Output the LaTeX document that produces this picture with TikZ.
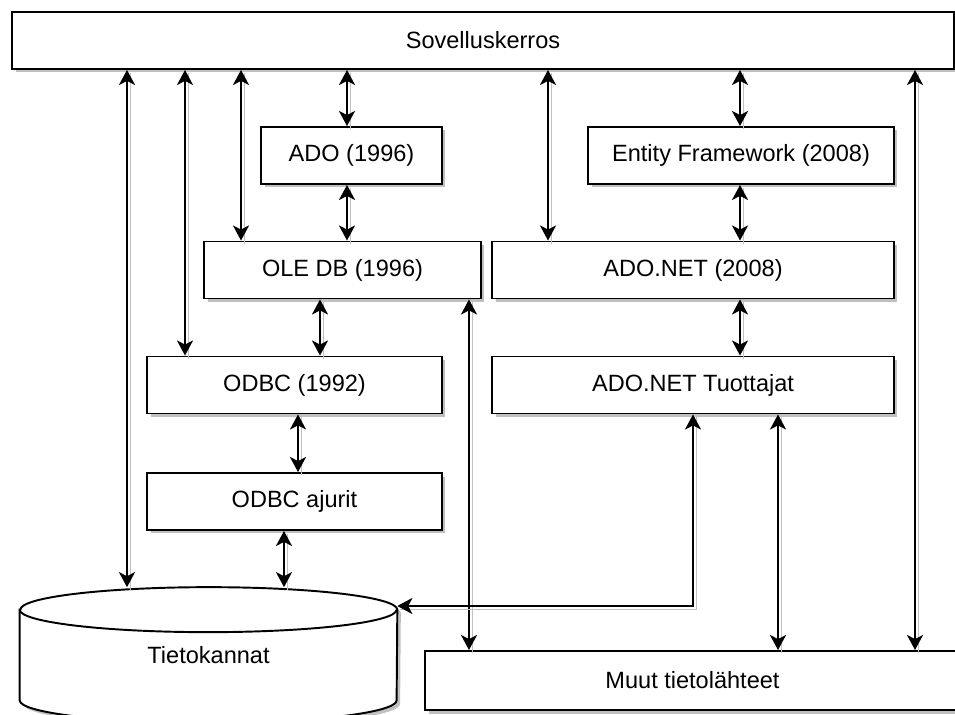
\documentclass[tikz,border=0pt]{standalone}
\usepackage{fontspec}
\setmainfont{Liberation Sans}
\usepackage{xcolor}
\usepackage{tikz}
\definecolor{shadowgray}{RGB}{192, 192, 192}
\usetikzlibrary{arrows.meta, shadows, backgrounds}

\begin{document}
\begin{tikzpicture}[
    x=0.02cm, y=-0.02cm,
    layer/.style={rectangle, draw=black, fill=white, line width=1.1pt,
                  minimum height=1.14cm, inner sep=0pt,
                  font=\fontsize{13.4}{16}\selectfont,
                  drop shadow={shadow xshift=0.07cm, shadow yshift=-0.07cm,
                               fill=shadowgray, opacity=1}},
    store/.style={rectangle, inner sep=0pt,
                  font=\fontsize{13.4}{16}\selectfont},
    storeline/.style={draw=black, fill=white, line width=1.1pt},
    link/.style={line width=1.1pt,
                 {Stealth[length=0.3cm, width=0.32cm, inset=0.08cm]}-{Stealth[length=0.3cm, width=0.32cm, inset=0.08cm]},
                 preaction={draw=shadowgray, -, transform canvas={shift={(3,3)}}}}
]
    \useasboundingbox (0,0) rectangle (955,715);

    \node[layer, minimum width=18.84cm] (app) at (483,40.5) {Sovelluskerros};
    \node[layer, minimum width=3.62cm] (ado) at (351.5,155.5) {ADO (1996)};
    \node[layer, minimum width=6.12cm] (ef) at (741,155.5) {Entity Framework (2008)};
    \node[layer, minimum width=5.54cm] (oledb) at (342.5,270) {OLE DB (1996)};
    \node[layer, minimum width=8.04cm] (adonet) at (693,270) {ADO.NET (2008)};
    \node[layer, minimum width=5.9cm] (odbc) at (294.5,385) {ODBC (1992)};
    \node[layer, minimum width=8.04cm] (prov) at (693,385) {ADO.NET Tuottajat};
    \node[layer, minimum width=5.9cm] (drv) at (294.5,501.5) {ODBC ajurit};
    \node[store, minimum width=7.54cm, minimum height=2.7cm] (db) at (208.5,655) {Tietokannat};
    \node[layer, minimum width=10.7cm, minimum height=1.18cm] (other) at (692.5,680.5) {Muut tietolähteet};

    \begin{scope}[on background layer]
        \fill[shadowgray, transform canvas={shift={(3.5,3.5)}}]
            ([yshift=-0.45cm]db.north west) -- ([yshift=0.45cm]db.south west)
            arc[start angle=180, end angle=360, x radius=3.77cm, y radius=0.45cm]
            -- ([yshift=-0.45cm]db.north east)
            arc[start angle=0, end angle=180, x radius=3.77cm, y radius=0.45cm] -- cycle;
        \draw[storeline]
            ([yshift=-0.45cm]db.north west) -- ([yshift=0.45cm]db.south west)
            arc[start angle=180, end angle=360, x radius=3.77cm, y radius=0.45cm]
            -- ([yshift=-0.45cm]db.north east)
            arc[start angle=0, end angle=180, x radius=3.77cm, y radius=0.45cm] -- cycle;
        \draw[storeline, fill=none] ([yshift=-0.45cm]db.north west)
            arc[start angle=180, end angle=360, x radius=3.77cm, y radius=0.45cm];
    \end{scope}

    \draw[link] (app.south -| 127,0) -- (db.north -| 127,0);
    \draw[link] (app.south -| 185,0) -- (odbc.north -| 185,0);
    \draw[link] (app.south -| 241,0) -- (oledb.north -| 241,0);
    \draw[link] (app.south -| 347,0) -- (ado.north -| 347,0);
    \draw[link] (ado.south -| 347,0) -- (oledb.north -| 347,0);
    \draw[link] (oledb.south -| 320,0) -- (odbc.north -| 320,0);
    \draw[link] (odbc.south -| 298,0) -- (drv.north -| 298,0);
    \draw[link] (drv.south -| 284,0) -- (db.north -| 284,0);
    \draw[link] (oledb.south -| 469,0) -- (other.north -| 469,0);
    \draw[link] (app.south -| 548,0) -- (adonet.north -| 548,0);
    \draw[link] (app.south -| 740,0) -- (ef.north -| 740,0);
    \draw[link] (ef.south -| 740,0) -- (adonet.north -| 740,0);
    \draw[link] (adonet.south -| 740,0) -- (prov.north -| 740,0);
    \draw[link] (prov.south -| 693,0) -- (693,606) -- (db.east |- 0,606);
    \draw[link] (prov.south -| 778,0) -- (other.north -| 778,0);
    \draw[link] (app.south -| 915,0) -- (other.north -| 915,0);
\end{tikzpicture}
\end{document}
